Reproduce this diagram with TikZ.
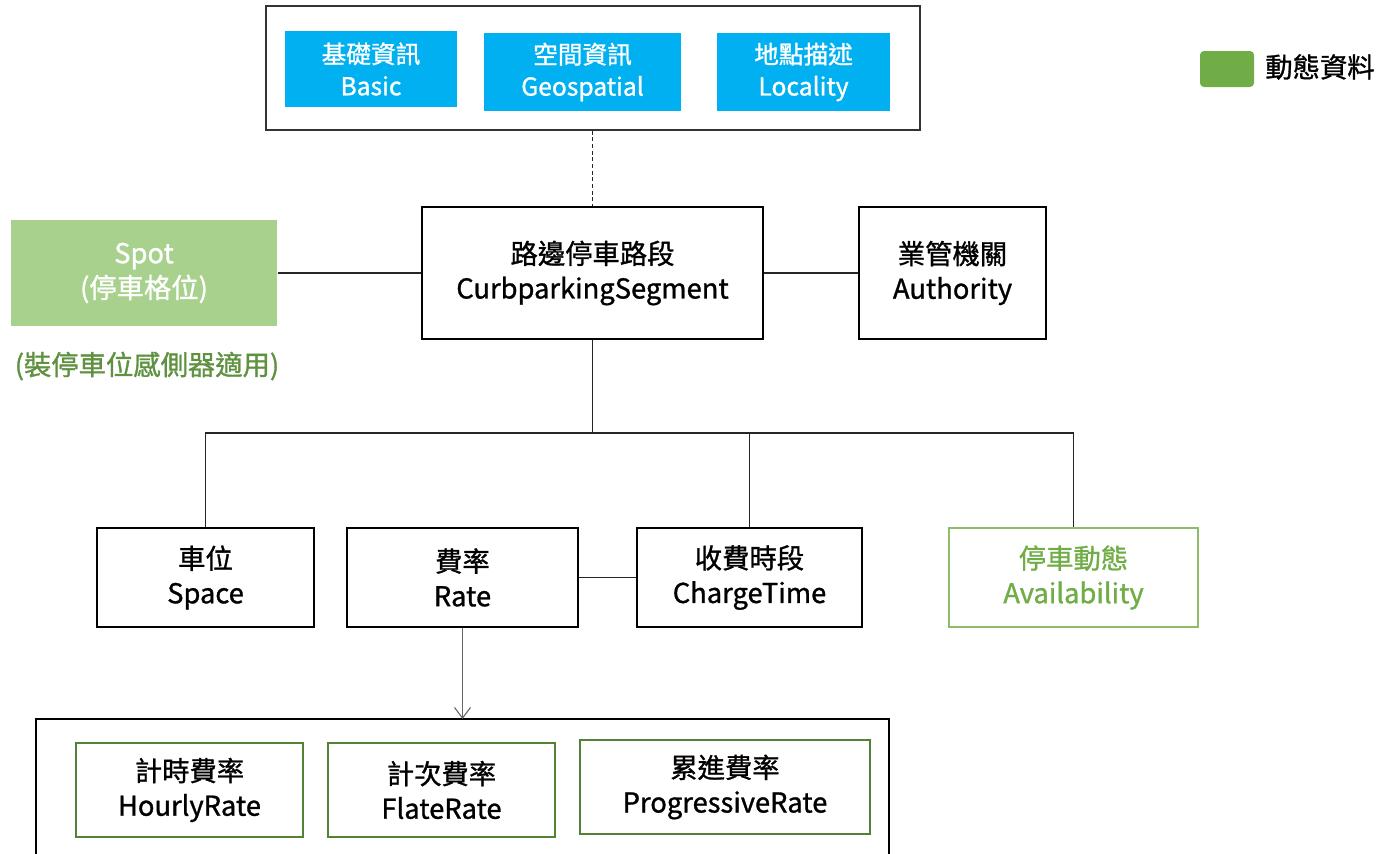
\documentclass[tikz,border=0pt]{standalone}
\usepackage{fontspec}
\setmainfont{Noto Sans CJK TC}[RawFeature={embolden=1.1}]
\usepackage{tikz}
\usetikzlibrary{arrows.meta}

\definecolor{infoblue}{HTML}{00B0F0}
\definecolor{spotgreen}{HTML}{A9D18E}
\definecolor{dyngreen}{HTML}{70AD47}
\definecolor{darkgreen}{HTML}{548235}
\definecolor{notegreen}{HTML}{5E9140}

\tikzset{
  box/.style={draw=black,line width=0.8pt,align=center,inner sep=0pt,
    font=\fontsize{20.5}{26}\selectfont},
  infobox/.style={fill=infoblue,text=white,align=center,inner sep=0pt,
    font=\fontsize{18.5}{24}\selectfont},
  ratebox/.style={box,draw=darkgreen},
  link/.style={line width=0.8pt,draw=black!85}
}

\begin{document}
\begin{tikzpicture}[x=0.75pt,y=-0.75pt]
  \useasboundingbox (0,0) rectangle (1380,853);

  % top group
  \node[draw=black!80,line width=0.8pt,minimum width=490.5pt,minimum height=93pt] (core) at (593,68) {};
  \node[infobox,minimum width=129pt,minimum height=57pt] (basic) at (371,69) {基礎資訊\\Basic};
  \node[infobox,minimum width=147.75pt,minimum height=58.5pt] (geo) at (582.5,72) {空間資訊\\Geospatial};
  \node[infobox,minimum width=129.75pt,minimum height=58.5pt] (loc) at (803.5,72) {地點描述\\Locality};

  % middle row
  \node[box,minimum width=255.75pt,minimum height=99pt] (seg) at (592.5,273) {路邊停車路段\\CurbparkingSegment};
  \node[box,minimum width=140.25pt,minimum height=99pt] (auth) at (952.5,273) {業管機關\\Authority};
  \node[box,draw=none,fill=spotgreen,text=white,minimum width=199.5pt,minimum height=79.5pt] (spot) at (144,273) {Spot\\(停車格位)};
  \node[text=notegreen,inner sep=0pt,font=\fontsize{20.5}{26}\selectfont] (note) at (147,366) {(裝停車位感側器適用)};

  % lower row
  \node[box,minimum width=162.75pt,minimum height=74.25pt] (space) at (205.5,577.5) {車位\\Space};
  \node[box,minimum width=173.25pt,minimum height=74.25pt] (rate) at (462.5,577.5) {費率\\Rate};
  \node[box,minimum width=168.75pt,minimum height=74.25pt] (charge) at (749.5,577.5) {收費時段\\ChargeTime};
  \node[box,draw=dyngreen!80,text=dyngreen,minimum width=186.75pt,minimum height=74.25pt] (avail) at (1073.5,577.5) {停車動態\\Availability};

  % rate types
  \draw[line width=0.8pt] (36,860) -- (36,719) -- (889,719) -- (889,860);
  \coordinate (ratetop) at (462.5,719);
  \node[ratebox,minimum width=170.25pt,minimum height=70.5pt] (hourly) at (189.5,790) {計時費率\\HourlyRate};
  \node[ratebox,minimum width=170.25pt,minimum height=70.5pt] (flate) at (441.5,790) {計次費率\\FlateRate};
  \node[ratebox,minimum width=217.5pt,minimum height=70.5pt] (prog) at (725,787) {累進費率\\ProgressiveRate};

  % legend
  \node[fill=dyngreen,rounded corners=3pt,minimum width=40.5pt,minimum height=27pt,inner sep=0pt] (legbox) at (1227,69) {};
  \node[inner sep=0pt,font=\fontsize{20.5}{26}\selectfont] (legtext) at (1320,67) {動態資料};

  % connectors
  \draw[link,dashed,dash pattern=on 3pt off 2pt] (core.south -| seg.north) -- (seg.north);
  \draw[link] (spot.east) -- (seg.west);
  \draw[link] (seg.east) -- (auth.west);
  \coordinate (bus) at (592.5,433);
  \draw[link] (seg.south) -- (bus);
  \draw[link] (space.north) -- (space.north |- bus) -- (avail.north |- bus) -- (avail.north);
  \draw[link] (charge.north) -- (charge.north |- bus);
  \draw[link] (rate.east) -- (charge.west);
  \draw[link,draw=black!60,-{Straight Barb[length=8pt,width=12pt]}] (rate.south) -- (ratetop);
\end{tikzpicture}
\end{document}
